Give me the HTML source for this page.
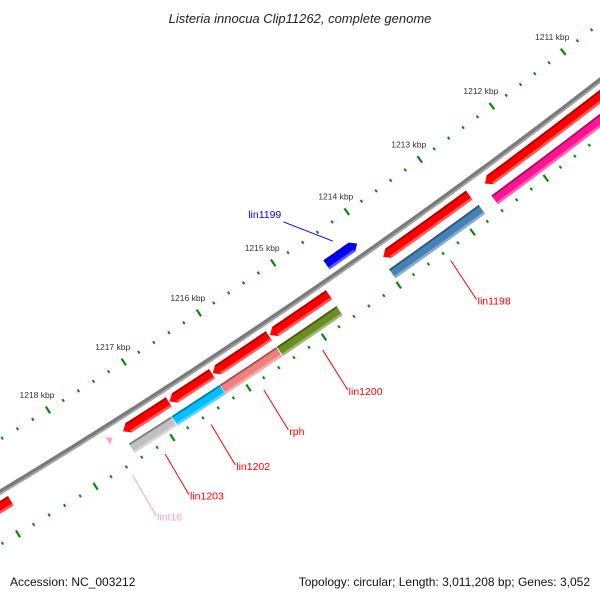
<!DOCTYPE html>
<html><head><meta charset="utf-8"><style>
html,body{margin:0;padding:0;background:#fff}
svg{display:block;font-family:"Liberation Sans","DejaVu Sans",sans-serif}
</style></head><body>
<svg id="map" width="600" height="600" viewBox="0 0 600 600">
<rect width="600" height="600" fill="#fff"/>
<text x="300" y="23" text-anchor="middle" font-style="italic" font-size="13" fill="#222">Listeria innocua Clip11262, complete genome</text>
<g id="plot"></g>
<text x="10" y="586" font-size="12" fill="#111">Accession: NC_003212</text>
<text x="590" y="586" text-anchor="end" font-size="12" fill="#111">Topology: circular; Length: 3,011,208 bp; Genes: 3,052</text>
</svg>
<script>
// ---- data ----
const featureNames = ['cds-a','cds-b','cds-c','cds-d','cds-e','cds-f','cds-g','lin1199','lin1198','magenta-gene','lin1200','rph','lin1202','lin1203','lint16'];
const featureStarts = [1214690,1215495,1216250,1216820,1212790,1210400,1218880,1214110,1212770,1210400,1214695,1215500,1216250,1216890,1217560];
const featureEnds   = [1215480,1216240,1216810,1217420,1213960,1212575,1219900,1214525,1213985,1212595,1215490,1216245,1216880,1217440,1217620];
const featureStrand = [1,1,1,1,1,1,1,-1,0,0,0,0,0,0,-1];
const featureLane   = [1,1,1,1,1,1,1,0,2,2,2,2,2,2,1];
const featureColors = ['#ff0000','#ff0000','#ff0000','#ff0000','#ff0000','#ff0000','#ff0000','#0000ff','#4682b4','#ff1493','#6b8e23','#f08080','#00bfff','#c0c0c0','#ff9ecf'];
const labelText  = ['lin1199','lin1198','lin1200','rph','lin1202','lin1203','lint16'];
const labelFeat  = [7,8,10,11,12,13,14];
const labelColors= ['#0000ff','#ff0000','#ff0000','#ff0000','#ff0000','#ff0000','#ff9ecf'];
const tickStart = 1210400, tickEnd = 1219800, tickStep = 200;
const backboneStart = 1209000, backboneEnd = 1221000;

// ---- axis functions ----
const CX=-3266, CY=-4908, RB=6311;
const A0=55.61, BP0=1215000, DEGPERBP=0.00082;
function ang(bp){return (A0+(bp-BP0)*DEGPERBP)*Math.PI/180;}
function pt(r,bp){const a=ang(bp);return [CX+r*Math.cos(a),CY+r*Math.sin(a)];}
const laneR={0:6298,1:6324,2:6343};
const HW=5.5, HEAD=70;
const NS='http://www.w3.org/2000/svg';
const g=document.getElementById('plot');
function mk(tag,attrs){const e=document.createElementNS(NS,tag);for(const k in attrs)e.setAttribute(k,attrs[k]);return e;}
function arcPts(r,b0,b1,n){const a=[];for(let i=0;i<=n;i++){a.push(pt(r,b0+(b1-b0)*i/n));}return a;}
function poly(points){return 'M'+points.map(p=>p[0].toFixed(2)+','+p[1].toFixed(2)).join('L')+'Z';}
function shape(rc,r0,r1,s,e,strand){
  let a=s,b=e;const pts=[];
  if(strand===1){b=e-HEAD;pts.push(...arcPts(r1,a,b,6));pts.push(pt(rc,e));pts.push(...arcPts(r0,b,a,6));}
  else if(strand===-1){a=s+HEAD;pts.push(pt(rc,s));pts.push(...arcPts(r1,a,b,6));pts.push(...arcPts(r0,b,a,6));}
  else{pts.push(...arcPts(r1,a,b,6));pts.push(...arcPts(r0,b,a,6));}
  return poly(pts);
}
function shade(hex,f){const n=parseInt(hex.slice(1),16);let r=n>>16,gg=(n>>8)&255,b=n&255;
  if(f<0){r*=1+f;gg*=1+f;b*=1+f;}else{r+=(255-r)*f;gg+=(255-gg)*f;b+=(255-b)*f;}
  return 'rgb('+[r,gg,b].map(v=>Math.round(v)).join(',')+')';}

// backbone
{
  const p=arcPts(RB,backboneStart,backboneEnd,120);
  const d='M'+p.map(q=>q[0].toFixed(2)+','+q[1].toFixed(2)).join('L');
  const bb=mk('path',{d:d,fill:'none',stroke:'#7a7a7a','stroke-width':5});
  
  
  g.appendChild(bb);
  const p2=arcPts(RB+1.5,backboneStart,backboneEnd,120);
  const hl=mk('path',{d:'M'+p2.map(q=>q[0].toFixed(2)+','+q[1].toFixed(2)).join('L'),fill:'none',stroke:'#a8a8a8','stroke-width':1.5});
  
  
  g.appendChild(hl);
}

// ticks
for(let bp=tickStart;bp<=tickEnd;bp+=tickStep){
  const major=(bp%1000===0);
  for(const rr of [6266,6356]){
    const len=major?4:1.5;
    const p0=pt(rr-len,bp),p1=pt(rr+len,bp);
    const t=mk('line',{x1:p0[0],y1:p0[1],x2:p1[0],y2:p1[1],stroke:'#0a870a','stroke-width':major?2.2:2});
    
    
    g.appendChild(t);
  }
  if(major){
    const lp=pt(6266,bp);
    const tx=mk('text',{x:lp[0]-11,y:lp[1]-12,'text-anchor':'middle','font-size':'8.5',fill:'#333'});
    tx.textContent=(bp/1000)+' kbp';
    
    
    g.appendChild(tx);
  }
}

// features
for(let i=0;i<featureNames.length;i++){
  const rc=laneR[featureLane[i]],s=featureStarts[i],e=featureEnds[i],st=featureStrand[i],c=featureColors[i];
  const grp=mk('g',{});
  
  
  const main=mk('path',{d:shape(rc,rc-HW,rc+HW,s,e,st),fill:c});
  
  
  grp.appendChild(main);
  if(e-s>200){
    const bs=st===-1?s+HEAD:s, be=st===1?e-HEAD:e;
    const dark=mk('path',{d:shape(rc,rc-HW,rc-HW+1.8,bs,be,0),fill:shade(c,-0.35)});
    
    
    grp.appendChild(dark);
    const lt=mk('path',{d:shape(rc,rc+HW-2.5,rc+HW,bs,be,0),fill:shade(c,0.35)});
    
    
    grp.appendChild(lt);
  }
  g.appendChild(grp);
}

// labels
for(let i=0;i<labelText.length;i++){
  const f=labelFeat[i],mid=(featureStarts[f]+featureEnds[f])/2;
  const inside=featureLane[f]===0;
  const p0=inside?pt(6282,mid):pt(6366,mid);
  const p1=inside?pt(6238,mid+330):pt(6413,mid+20);
  const ln=mk('line',{x1:p0[0],y1:p0[1],x2:p1[0],y2:p1[1],stroke:labelColors[i],'stroke-width':1});
  
  
  g.appendChild(ln);
  const tx=mk('text',{x:inside?p1[0]-2:p1[0]+1,y:inside?p1[1]-4:p1[1]+5,'text-anchor':inside?'end':'start','font-size':'10.5',fill:labelColors[i]});
  tx.textContent=labelText[i];
  
  
  g.appendChild(tx);
}
</script>
</body></html>
